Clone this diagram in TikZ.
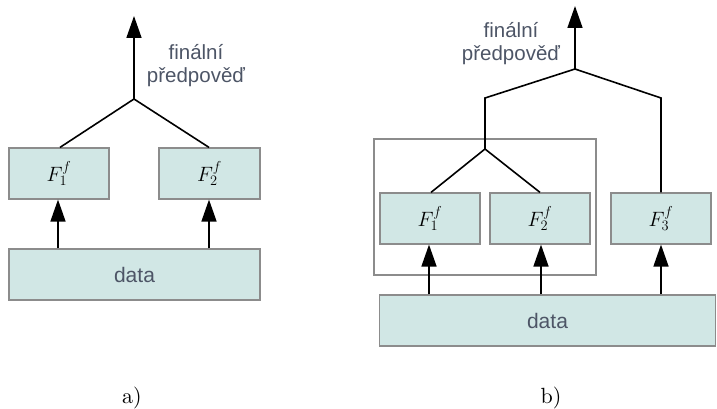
\documentclass[tikz,border=0pt]{standalone}
\usepackage{fontspec}
\setsansfont{Liberation Sans}
\usetikzlibrary{arrows.meta}
\definecolor{boxfill}{HTML}{D1E7E5}
\definecolor{boxline}{HTML}{8C8C8C}
\definecolor{txt}{HTML}{4D5566}
\tikzset{
  fbox/.style={draw=boxline, fill=boxfill, line width=1.2pt, minimum width=100pt, minimum height=51pt, inner sep=0pt, font=\fontsize{20}{24}\selectfont},
  databox/.style={fbox, font=\sffamily\fontsize{21}{24}\selectfont, text=txt},
  grpbox/.style={draw=boxline, line width=1.2pt, inner sep=0pt},
  conn/.style={line width=1.6pt, black},
  arr/.style={conn, -{Triangle[width=15pt,length=22pt]}},
  lbl/.style={font=\sffamily\fontsize{20.5}{23}\selectfont, text=txt, align=center, inner sep=0pt},
  captext/.style={font=\normalsize, scale=2.2, inner sep=0pt}
}
\begin{document}
\begin{tikzpicture}[x=1pt,y=-1pt]
\useasboundingbox (0,0) rectangle (717,409);
% ---- a) ----
\node[fbox] (F1L) at (59,173.5) {$F^{f}_{1}$};
\node[fbox, minimum width=101pt] (F2L) at (209.5,173.5) {$F^{f}_{2}$};
\node[databox, minimum width=251pt] (dataL) at (134.5,274.5) {data};
\coordinate (apexL) at (134,99);
\coordinate (topL) at (134,16);
\node[lbl] (txtL) at (196,66) {finální\\předpověď};
\draw[arr] (dataL.north -| 58,0) -- (F1L.south -| 58,0);
\draw[arr] (dataL.north -| 209,0) -- (F2L.south -| 209,0);
\draw[conn] (F1L.north -| 60,0) -- (apexL) -- (F2L.north -| 209,0);
\draw[arr] (apexL) -- (topL);
% ---- b) ----
\node[grpbox, minimum width=222pt, minimum height=136pt] (grpR) at (485,207) {};
\node[fbox] (F1R) at (430,218.5) {$F^{f}_{1}$};
\node[fbox] (F2R) at (540,218.5) {$F^{f}_{2}$};
\node[fbox] (F3R) at (661,218.5) {$F^{f}_{3}$};
\node[databox, minimum width=336pt] (dataR) at (547.5,320.5) {data};
\coordinate (apexR1) at (485,149);
\coordinate (jR1) at (485,98);
\coordinate (apexR2) at (575,69);
\coordinate (jR2) at (661,98);
\coordinate (topR) at (575,6);
\node[lbl] (txtR) at (511,44) {finální\\předpověď};
\draw[arr] (dataR.north -| 429,0) -- (F1R.south -| 429,0);
\draw[arr] (dataR.north -| 541,0) -- (F2R.south -| 541,0);
\draw[arr] (dataR.north -| F3R) -- (F3R.south);
\draw[conn] (F1R.north -| 431,0) -- (apexR1) -- (F2R.north);
\draw[conn] (apexR1) -- (jR1) -- (apexR2) -- (jR2) -- (F3R.north);
\draw[arr] (apexR2) -- (topR);
% ---- captions ----
\node[captext] (capA) at (132,398) {a)};
\node[captext] (capB) at (551,398) {b)};
\end{tikzpicture}
\end{document}
